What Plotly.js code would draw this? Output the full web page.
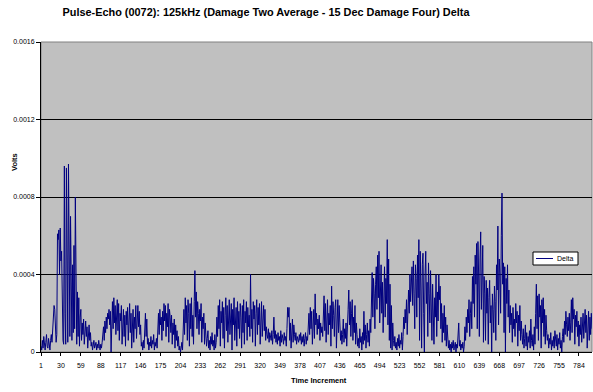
<!DOCTYPE html>
<html>
<head>
<meta charset="utf-8">
<script src="https://cdn.plot.ly/plotly-3.0.1.min.js"></script>
<style>html,body{margin:0;padding:0;background:#fff;}#chart{width:593px;height:392px;}</style>
</head>
<body>
<div id="chart"></div>
<script>
// Delta values in units of 1e-5 V, time increments 1..803
var deltaE5 = [
3,1,6,2,8,4,1,5,9,3,
2,7,4,1,6,9,5,12,20,24,
22,15,5,9,61,58,63,40,64,47,
52,20,6,4,96,20,4,95,30,5,
97,60,8,70,30,6,45,10,55,12,
80,35,4,31,8,28,3,18,22,6,
15,9,17,4,12,16,8,13,2,11,
14,6,10,3,5,1,4,6,2,3,
5,1,4,2,6,3,1,4,2,5,
8,13,6,16,10,18,12,20,17,22,
14,21,0,19,26,12,28,15,24,9,
23,27,11,25,6,20,16,24,4,18,
22,8,19,3,21,14,23,6,17,25,
10,20,2,15,22,5,18,12,24,7,
16,24,13,21,9,14,3,5,1,6,
2,12,20,8,17,4,7,1,5,3,
8,2,6,4,9,1,5,3,7,2,
12,20,9,22,14,18,6,21,11,25,
16,24,8,20,13,25,5,22,18,10,
19,4,15,9,17,2,14,6,11,3,
8,1,3,0,2,5,1,12,22,9,
28,15,24,6,27,20,3,25,12,28,
8,19,4,26,42,18,31,12,26,20,
9,22,16,25,5,18,12,20,4,15,
9,3,7,11,2,6,1,8,4,10,
3,6,1,9,2,5,18,8,24,12,
27,3,21,15,26,7,23,2,19,28,
11,24,5,20,27,9,16,25,1,22,
14,28,6,19,23,3,26,12,21,7,
25,18,2,24,10,27,4,21,15,26,
6,23,13,19,8,40,12,22,5,26,
17,24,3,20,27,9,23,14,25,4,
21,26,8,19,24,11,22,6,13,9,
7,12,5,10,8,6,11,4,9,18,
7,11,5,9,4,10,6,8,3,11,
5,9,7,4,10,6,8,3,12,23,
18,23,6,15,2,12,17,5,14,9,
6,10,4,8,7,5,9,6,10,4,
8,5,9,3,7,10,4,8,6,15,
20,9,23,12,21,4,18,22,7,30,
14,20,9,17,12,19,6,15,10,13,
8,18,29,11,25,5,22,27,9,20,
14,24,3,34,12,26,19,8,23,27,
2,20,27,10,24,15,6,11,4,9,
17,5,12,7,15,3,10,22,32,14,
26,8,20,27,6,18,10,24,4,15,
9,3,7,2,12,5,8,1,10,4,
21,6,14,2,9,15,5,11,3,17,
10,26,41,18,38,30,12,35,44,22,
50,28,52,15,40,45,20,36,10,30,
44,18,38,25,58,14,48,6,35,2,
24,1,15,6,3,8,2,5,1,7,
3,9,2,6,4,10,1,8,18,12,
22,15,27,9,24,32,20,40,26,36,
44,24,47,30,12,45,38,18,50,28,
58,6,52,33,2,45,51,20,0,40,
52,25,36,8,46,30,15,42,20,6,
35,24,4,28,18,40,8,31,16,40,
27,34,12,25,5,20,10,24,6,18,
3,14,8,2,6,1,4,0,5,2,
6,1,3,5,0,4,2,7,15,3,
6,1,4,2,5,0,3,13,6,18,
10,22,15,27,8,20,26,12,39,25,
44,18,50,35,56,12,57,40,8,48,
62,22,35,55,5,39,30,6,37,20,
33,4,28,37,15,24,0,30,22,10,
34,26,6,45,32,65,14,48,40,20,
60,82,35,46,10,44,0,38,25,45,
18,32,10,24,14,20,5,23,12,17,
8,25,15,21,3,19,11,24,6,16,
9,4,12,2,7,14,3,10,1,8,
5,11,2,17,6,3,9,1,13,4,
20,35,12,29,6,30,18,24,2,27,
15,28,8,22,4,19,11,6,9,2,
7,4,10,1,6,3,8,2,11,5,
3,9,1,7,4,10,2,6,0,8,
12,5,16,9,21,14,8,18,11,20,
6,15,27,10,28,17,22,4,19,13,
21,8,16,3,14,9,18,5,12,20,
7,17,22,10,19,2,15,21,6,18,
9,20,12
];
var timeIncrement = deltaE5.map(function(_, i){ return i + 1; });
var deltaVolts = deltaE5.map(function(v){ return v * 1e-5; });
var xTickVals = [1,30,59,88,117,146,175,204,233,262,291,320,349,378,407,436,465,494,523,552,581,610,639,668,697,726,755,784];
var yTickVals = [0, 0.0004, 0.0008, 0.0012, 0.0016];
var yTickText = ['0', '0.0004', '0.0008', '0.0012', '0.0016'];
var seriesName = 'Delta';

var FONT = 'Arial, "Liberation Sans", sans-serif';

var trace = {
  x: timeIncrement, y: deltaVolts, type: 'scatter', mode: 'lines', name: seriesName,
  line: {color: '#000080', width: 1}, showlegend: false
};

// plot area: x 41..592, y 42..352 (px)
function px(x){ return (x - 41) / 551; }
function py(y){ return (352 - y) / 310; }

var layout = {
  width: 593, height: 392,
  margin: {l: 41, r: 1, t: 42, b: 40, pad: 0},
  paper_bgcolor: '#ffffff', plot_bgcolor: '#c0c0c0',
  font: {family: FONT, color: '#000', size: 7},
  title: {text: '<b>Pulse-Echo (0072): 125kHz (Damage Two Average - 15 Dec Damage Four) Delta</b>',
          font: {family: FONT, size: 10.9, color: '#000'}, xref: 'container', x: 266/593, xanchor: 'center',
          yref: 'container', y: 1 - 12/392, yanchor: 'middle'},
  xaxis: {
    range: [1, 803], tickmode: 'array', tickvals: xTickVals, ticktext: xTickVals.map(String),
    ticks: 'outside', ticklen: 3, tickcolor: '#000', showgrid: false, zeroline: false,
    showline: true, linecolor: '#000', linewidth: 1, tickfont: {size: 7, family: FONT, color: '#000'},
    tickangle: 0, ticklabelstandoff: 4
  },
  yaxis: {
    range: [0, 0.0016], tickmode: 'array', tickvals: yTickVals, ticktext: yTickText,
    ticks: 'outside', ticklen: 4, tickcolor: '#000', showgrid: true, gridcolor: '#000', gridwidth: 1,
    zeroline: false, showline: true, linecolor: '#000', linewidth: 1, tickfont: {size: 7, family: FONT, color: '#000'}
  },
  showlegend: false,
  shapes: [
    {type: 'rect', xref: 'paper', yref: 'paper', x0: 0, x1: 1, y0: 0, y1: 1, line: {color: '#808080', width: 1}, layer: 'below'},
    // legend box
    {type: 'rect', xref: 'paper', yref: 'paper', x0: px(533), x1: px(578), y0: py(265), y1: py(252),
     fillcolor: '#ffffff', line: {color: '#000', width: 1}},
    {type: 'line', xref: 'paper', yref: 'paper', x0: px(536), x1: px(553), y0: py(258.5), y1: py(258.5),
     line: {color: '#000080', width: 1}}
  ],
  annotations: [
    {text: seriesName, xref: 'paper', yref: 'paper', x: px(555), y: py(258.5), xanchor: 'left', yanchor: 'middle',
     showarrow: false, font: {size: 7, family: FONT, color: '#000'}},
    {text: '<b>Volts</b>', xref: 'paper', yref: 'paper', x: px(14), y: py(162), xanchor: 'center', yanchor: 'middle',
     textangle: -90, showarrow: false, font: {size: 7.5, family: FONT, color: '#000'}},
    {text: '<b>Time Increment</b>', xref: 'paper', yref: 'paper', x: px(319), y: py(380), xanchor: 'center', yanchor: 'middle',
     showarrow: false, font: {size: 7.5, family: FONT, color: '#000'}}
  ]
};

Plotly.newPlot('chart', [trace], layout, {displayModeBar: false, staticPlot: true});
</script>
</body>
</html>
